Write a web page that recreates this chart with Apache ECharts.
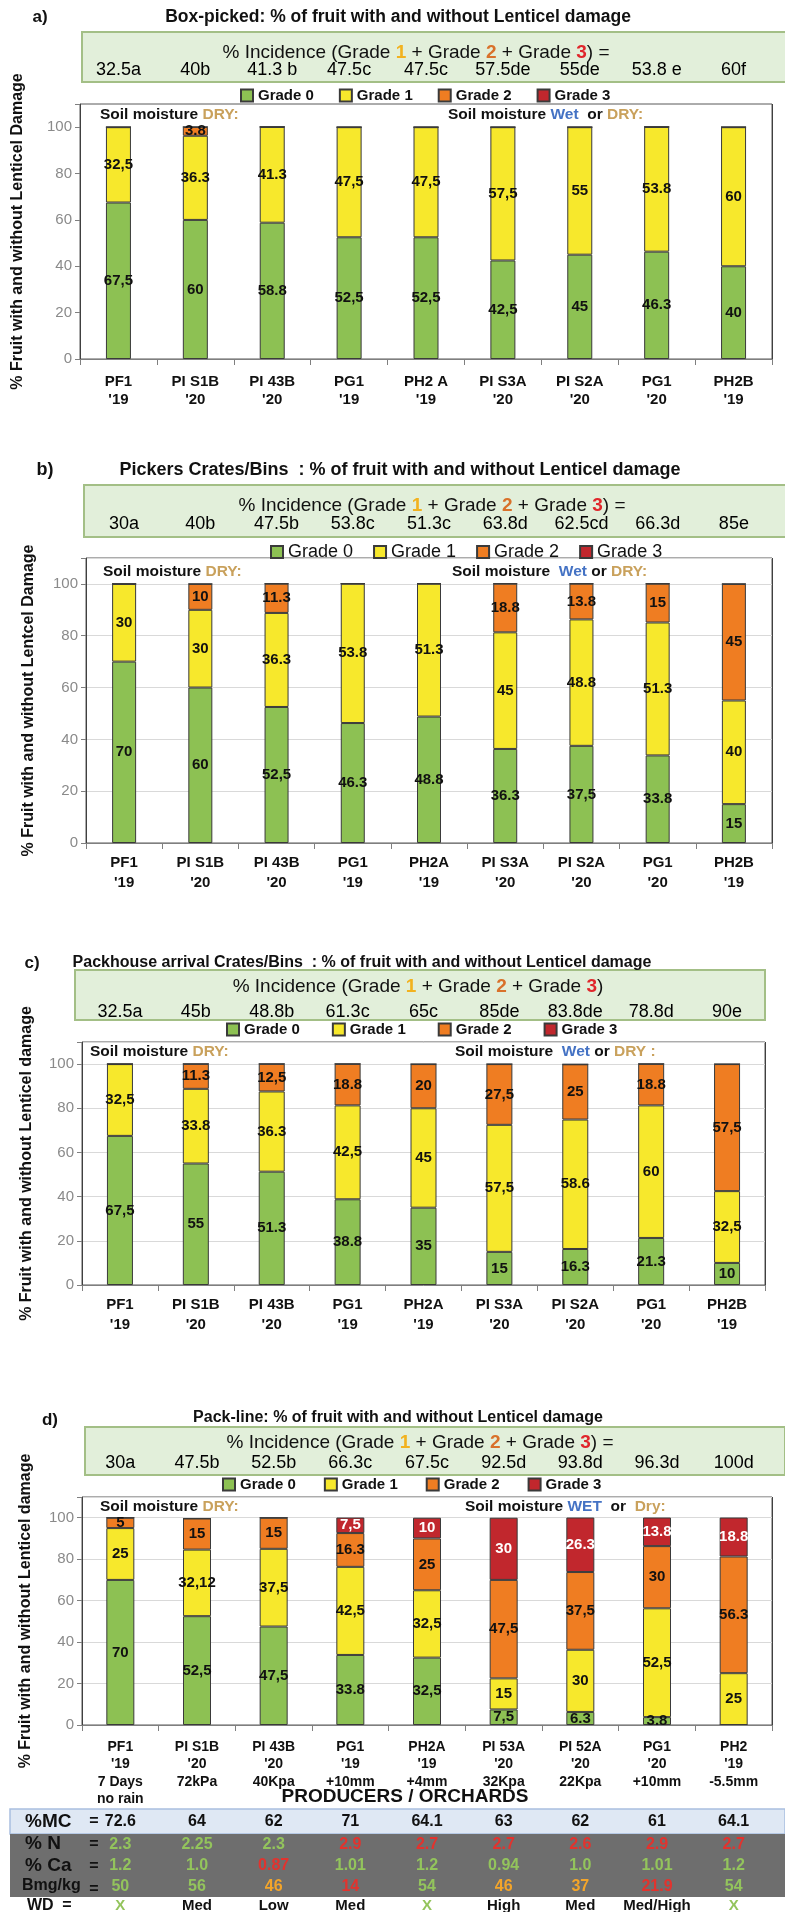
<!DOCTYPE html>
<html><head><meta charset="utf-8">
<script src="https://cdn.jsdelivr.net/npm/echarts@6/dist/echarts.min.js"></script>
<style>html,body{margin:0;padding:0;background:#fff}#c{width:785px;height:1912px}</style>
</head><body><div id="c"></div>
<script>
// ---------------- DATA ----------------
const grades = ['Grade 0','Grade 1','Grade 2','Grade 3'];

const catsA = ["PF1\n'19","PI S1B\n'20","PI 43B\n'20","PG1\n'19","PH2 A\n'19","PI S3A\n'20","PI S2A\n'20","PG1\n'20","PH2B\n'19"];
const catsB = ["PF1\n'19","PI S1B\n'20","PI 43B\n'20","PG1\n'19","PH2A\n'19","PI S3A\n'20","PI S2A\n'20","PG1\n'20","PH2B\n'19"];
const catsC = ["PF1\n'19","PI S1B\n'20","PI 43B\n'20","PG1\n'19","PH2A\n'19","PI S3A\n'20","PI S2A\n'20","PG1\n'20","PH2B\n'19"];
const catsD = ["PF1\n'19\n7 Days\nno rain","PI S1B\n'20\n72kPa","PI 43B\n'20\n40Kpa","PG1\n'19\n+10mm","PH2A\n'19\n+4mm","PI 53A\n'20\n32Kpa","PI 52A\n'20\n22Kpa","PG1\n'20\n+10mm","PH2\n'19\n-5.5mm"];

// a) Box-picked
const aG0 = [67.5,60,58.8,52.5,52.5,42.5,45,46.3,40];
const aG1 = [32.5,36.3,41.3,47.5,47.5,57.5,55,53.8,60];
const aG2 = [0,3.8,0,0,0,0,0,0,0];
const aG3 = [0,0,0,0,0,0,0,0,0];
const aLbl0 = ['67,5','60','58.8','52,5','52,5','42,5','45','46.3','40'];
const aLbl1 = ['32,5','36.3','41.3','47,5','47,5','57,5','55','53.8','60'];
const aLbl2 = ['','3.8','','','','','','',''];
const aLbl3 = ['','','','','','','','',''];
const aInc = ['32.5a','40b','41.3 b','47.5c','47.5c','57.5de','55de','53.8 e','60f'];

// b) Pickers crates/bins
const bG0 = [70,60,52.5,46.3,48.8,36.3,37.5,33.8,15];
const bG1 = [30,30,36.3,53.8,51.3,45,48.8,51.3,40];
const bG2 = [0,10,11.3,0,0,18.8,13.8,15,45];
const bG3 = [0,0,0,0,0,0,0,0,0];
const bLbl0 = ['70','60','52,5','46.3','48.8','36.3','37,5','33.8','15'];
const bLbl1 = ['30','30','36.3','53.8','51.3','45','48.8','51.3','40'];
const bLbl2 = ['','10','11.3','','','18.8','13.8','15','45'];
const bLbl3 = ['','','','','','','','',''];
const bInc = ['30a','40b','47.5b','53.8c','51.3c','63.8d','62.5cd','66.3d','85e'];

// c) Packhouse arrival
const cG0 = [67.5,55,51.3,38.8,35,15,16.3,21.3,10];
const cG1 = [32.5,33.8,36.3,42.5,45,57.5,58.6,60,32.5];
const cG2 = [0,11.3,12.5,18.8,20,27.5,25,18.8,57.5];
const cG3 = [0,0,0,0,0,0,0,0,0];
const cLbl0 = ['67,5','55','51.3','38.8','35','15','16.3','21.3','10'];
const cLbl1 = ['32,5','33.8','36.3','42,5','45','57,5','58.6','60','32,5'];
const cLbl2 = ['','11.3','12,5','18.8','20','27,5','25','18.8','57,5'];
const cLbl3 = ['','','','','','','','',''];
const cInc = ['32.5a','45b','48.8b','61.3c','65c','85de','83.8de','78.8d','90e'];

// d) Pack-line
const dG0 = [70,52.5,47.5,33.8,32.5,7.5,6.3,3.8,0];
const dG1 = [25,32.12,37.5,42.5,32.5,15,30,52.5,25];
const dG2 = [5,15,15,16.3,25,47.5,37.5,30,56.3];
const dG3 = [0,0,0,7.5,10,30,26.3,13.8,18.8];
const dLbl0 = ['70','52,5','47,5','33.8','32,5','7,5','6.3','3.8',''];
const dLbl1 = ['25','32,12','37,5','42,5','32,5','15','30','52,5','25'];
const dLbl2 = ['5','15','15','16.3','25','47,5','37,5','30','56.3'];
const dLbl3 = ['','','','7,5','10','30','26.3','13.8','18.8'];
const dInc = ['30a','47.5b','52.5b','66.3c','67.5c','92.5d','93.8d','96.3d','100d'];

// table under d)
const mcVals = ['72.6','64','62','71','64.1','63','62','61','64.1'];
const nVals  = ['2.3','2.25','2.3','2.9','2.7','2.7','2.6','2.9','2.7'];
const caVals = ['1.2','1.0','0.87','1.01','1.2','0.94','1.0','1.01','1.2'];
const bmVals = ['50','56','46','14','54','46','37','21.9','54'];
const wdVals = ['X','Med','Low','Med','X','High','Med','Med/High','X'];

// ---------------- STYLE / LAYOUT ----------------
const SANS = "'Liberation Sans',Arial,sans-serif";
const COL = ['#8dc153','#f7e82c','#ef7d22','#c1272d'];
const TAN = '#c9a15c', BLUE = '#4472c4';

const P = [
  {cats:catsA, g:[aG0,aG1,aG2,aG3], l:[aLbl0,aLbl1,aLbl2,aLbl3], inc:aInc,
   grid:{left:80,right:13,top:104,height:255}, barW:25, split:false, ytitle:'% Fruit with and without Lenticel Damage', ytGap:54,
   catMargin:14, catLH:18, catFont:15, incMargin:34, lblFont:15,
   lg:{left:240,top:88,gap:25,size:15,bold:true}},
  {cats:catsB, g:[bG0,bG1,bG2,bG3], l:[bLbl0,bLbl1,bLbl2,bLbl3], inc:bInc,
   grid:{left:86,right:13,top:558,height:285}, barW:24, split:true, ytitle:'% Fruit with and without Lentcel Damage', ytGap:49,
   catMargin:10, catLH:20, catFont:15, incMargin:34, lblFont:15,
   lg:{left:270,top:543,gap:20,size:18,bold:false}},
  {cats:catsC, g:[cG0,cG1,cG2,cG3], l:[cLbl0,cLbl1,cLbl2,cLbl3], inc:cInc,
   grid:{left:82,right:20,top:1042,height:243}, barW:26, split:true, ytitle:'% Fruit with and without Lenticel damage', ytGap:47,
   catMargin:10, catLH:20, catFont:15, incMargin:30, lblFont:15,
   lg:{left:226,top:1022,gap:32,size:15,bold:true}},
  {cats:catsD, g:[dG0,dG1,dG2,dG3], l:[dLbl0,dLbl1,dLbl2,dLbl3], inc:dInc,
   grid:{left:82,right:13,top:1497,height:228}, barW:28, split:true, ytitle:'% Fruit with and without Lenticel damage', ytGap:48,
   catMargin:13, catLH:17.5, catFont:14, incMargin:34, lblFont:15,
   lg:{left:222,top:1477,gap:28,size:15,bold:true}}
];

const grid=[], xAxis=[], yAxis=[], series=[], legend=[];
P.forEach((p,i)=>{
  grid.push(Object.assign({show:true,borderColor:'#595959',borderWidth:1,containLabel:false,outerBoundsMode:'none'},p.grid));
  const xi = xAxis.length;
  xAxis.push({type:'category',gridIndex:i,data:p.cats,position:'bottom',z:5,
    axisLine:{show:true,lineStyle:{color:'#7f7f7f',width:1}},
    axisTick:{show:true,length:6,lineStyle:{color:'#7f7f7f'}},
    axisLabel:{interval:0,hideOverlap:false,margin:p.catMargin,color:'#111',fontFamily:SANS,fontWeight:'bold',fontSize:p.catFont,lineHeight:p.catLH},
    splitLine:{show:true,interval:(idx)=>idx===5,lineStyle:{color:'#404040',width:1}}});
  xAxis.push({type:'category',gridIndex:i,data:p.inc,position:'top',z:20,
    axisLine:{show:false},axisTick:{show:false},splitLine:{show:false},
    axisLabel:{interval:0,hideOverlap:false,margin:p.incMargin,verticalAlign:'middle',color:'#000',fontFamily:SANS,fontSize:18}});
  yAxis.push({type:'value',gridIndex:i,min:0,max:110,interval:20,
    name:p.ytitle,nameLocation:'middle',nameGap:p.ytGap,nameRotate:90,
    nameTextStyle:{fontFamily:SANS,fontWeight:'bold',fontSize:16,color:'#111'},
    axisLine:{show:true,lineStyle:{color:'#7f7f7f'}},
    axisTick:{show:true,length:5,lineStyle:{color:'#7f7f7f'}},
    axisLabel:{color:'#8a8a8a',fontSize:15,fontFamily:SANS,margin:8,formatter:v=>v>100?'':String(v)},
    splitLine:{show:p.split,lineStyle:{color:'#d9d9d9'}}});
  grades.forEach((g,k)=>{
    series.push({type:'bar',name:g,xAxisIndex:xi,yAxisIndex:i,stack:'s'+i,barWidth:p.barW,data:p.g[k],
      itemStyle:{color:COL[k],borderColor:'#3a3a3a',borderWidth:1},
      label:{show:true,position:'inside',formatter:(q)=>p.l[k][q.dataIndex],color:k===3?'#fff':'#111',
        fontFamily:SANS,fontWeight:'bold',fontSize:p.lblFont},
      emphasis:{disabled:true}});
  });
  legend.push({data:grades,left:p.lg.left,top:p.lg.top,itemWidth:12,itemHeight:12,itemGap:p.lg.gap,icon:'rect',
    selectedMode:false,padding:0,
    textStyle:{fontFamily:SANS,fontWeight:p.lg.bold?'bold':'normal',fontSize:p.lg.size,color:'#111'}});
});

// table rows under panel d (as extra category axes on grid d)
const RICH = (sz)=>({
  k:{color:'#111',fontFamily:SANS,fontWeight:'bold',fontSize:sz},
  g:{color:'#93c45c',fontFamily:SANS,fontWeight:'bold',fontSize:sz},
  r:{color:'#e2332e',fontFamily:SANS,fontWeight:'bold',fontSize:sz},
  o:{color:'#f4a52a',fontFamily:SANS,fontWeight:'bold',fontSize:sz}
});
function tableAxis(data, margin, tone, sz){
  xAxis.push({type:'category',gridIndex:3,data:data,position:'bottom',z:20,
    axisLine:{show:false},axisTick:{show:false},splitLine:{show:false},
    axisLabel:{interval:0,hideOverlap:false,margin:margin,verticalAlign:'middle',
      formatter:(v)=>'{'+tone(v)+'|'+v+'}',rich:RICH(sz)}});
}
tableAxis(mcVals, 97, ()=>'k', 16);
tableAxis(nVals, 120, (v)=>parseFloat(v)>2.5?'r':'g', 16);
tableAxis(caVals, 141, (v)=>parseFloat(v)<0.9?'r':'g', 16);
tableAxis(bmVals, 162, (v)=>{const n=parseFloat(v);return n<30?'r':(n<50?'o':'g');}, 16);
tableAxis(wdVals, 181, (v)=>v==='X'?'g':'k', 15);

// ---------------- ANNOTATIONS ----------------
const els = [];
function txt(x,y,text,font,fill,align,rich){
  const st={text:text,font:font,fill:fill||'#111',align:align||'center',verticalAlign:'middle'};
  if(rich) st.rich=rich;
  els.push({type:'text',x:x,y:y,z:50,style:st,silent:true});
}
function box(x,y,w,h){
  els.push({type:'rect',x:x,y:y,z:-10,shape:{width:w,height:h},style:{fill:'#e2efda',stroke:'#a3bf86',lineWidth:2},silent:true});
}
const HF = 'bold 19px '+SANS;
const headerRich = {o:{fill:'#f2b21f',font:HF}, r:{fill:'#d9712a',font:HF}, d:{fill:'#e0262b',font:HF}};
function header(x,y,eq){
  txt(x,y,'% Incidence (Grade {o|1} + Grade {r|2} + Grade {d|3})'+(eq?' =':''),"19px "+SANS,'#111','center',headerRich);
}
function soil(x,y,parts,sz){
  const f='bold '+sz+'px '+SANS;
  const rich={k:{fill:'#111',font:f},t:{fill:TAN,font:f},w:{fill:BLUE,font:f}};
  txt(x,y,parts,f,'#111','left',rich);
}
// a
box(82,32,710,50);
txt(40,17,'a)','bold 17px '+SANS);
txt(398,17,'Box-picked: % of fruit with and without Lenticel damage','bold 17.5px '+SANS);
header(416,53,true);
soil(100,115,'{k|Soil moisture }{t|DRY:}',15.5);
soil(448,115,'{k|Soil moisture }{w|Wet}{k|  or }{t|DRY:}',15.5);
// b
box(84,485,706,52);
txt(45,470,'b)','bold 18px '+SANS);
txt(400,470,'Pickers Crates/Bins  : % of fruit with and without Lenticel damage','bold 18px '+SANS);
header(432,506,true);
soil(103,572,'{k|Soil moisture }{t|DRY:}',15.5);
soil(452,572,'{k|Soil moisture  }{w|Wet}{k| or }{t|DRY:}',15.5);
// c
box(75,970,690,50);
txt(32,963,'c)','bold 17px '+SANS);
txt(362,963,'Packhouse arrival Crates/Bins  : % of fruit with and without Lenticel damage','bold 16px '+SANS);
header(418,987,false);
soil(90,1052,'{k|Soil moisture }{t|DRY:}',15.5);
soil(455,1052,'{k|Soil moisture  }{w|Wet}{k| or }{t|DRY :}',15.5);
// d
box(85,1427,700,48);
txt(50,1420,'d)','bold 17px '+SANS);
txt(398,1418,'Pack-line: % of fruit with and without Lenticel damage','bold 16px '+SANS);
header(420,1443,true);
soil(100,1507,'{k|Soil moisture }{t|DRY:}',15.5);
soil(465,1507,'{k|Soil moisture }{w|WET}{k|  or  }{t|Dry:}',15.5);
txt(405,1797,'PRODUCERS / ORCHARDS','bold 19px '+SANS);
// table bands
els.push({type:'rect',x:10,y:1809,z:-10,shape:{width:775,height:25},style:{fill:'#dfe8f4',stroke:'#a9bfdf',lineWidth:1.5},silent:true});
els.push({type:'rect',x:10,y:1834,z:-10,shape:{width:775,height:63},style:{fill:'#6e6e6e'},silent:true});
txt(25,1822,'%MC','bold 19px '+SANS,'#111','left');
txt(25,1844,'% N','bold 19px '+SANS,'#111','left');
txt(25,1866,'% Ca','bold 19px '+SANS,'#111','left');
txt(22,1886,'Bmg/kg','bold 16px '+SANS,'#111','left');
txt(27,1906,'WD','bold 16px '+SANS,'#111','left');
[1822,1845,1867,1890].forEach(y=>txt(94,y,'=','bold 16px '+SANS));
txt(67,1906,'=','bold 16px '+SANS);

const chart = echarts.init(document.getElementById('c'),null,{renderer:'canvas',width:785,height:1912});
chart.setOption({animation:false,backgroundColor:'#fff',grid,xAxis,yAxis,series,legend,graphic:{elements:els}});
</script></body></html>
